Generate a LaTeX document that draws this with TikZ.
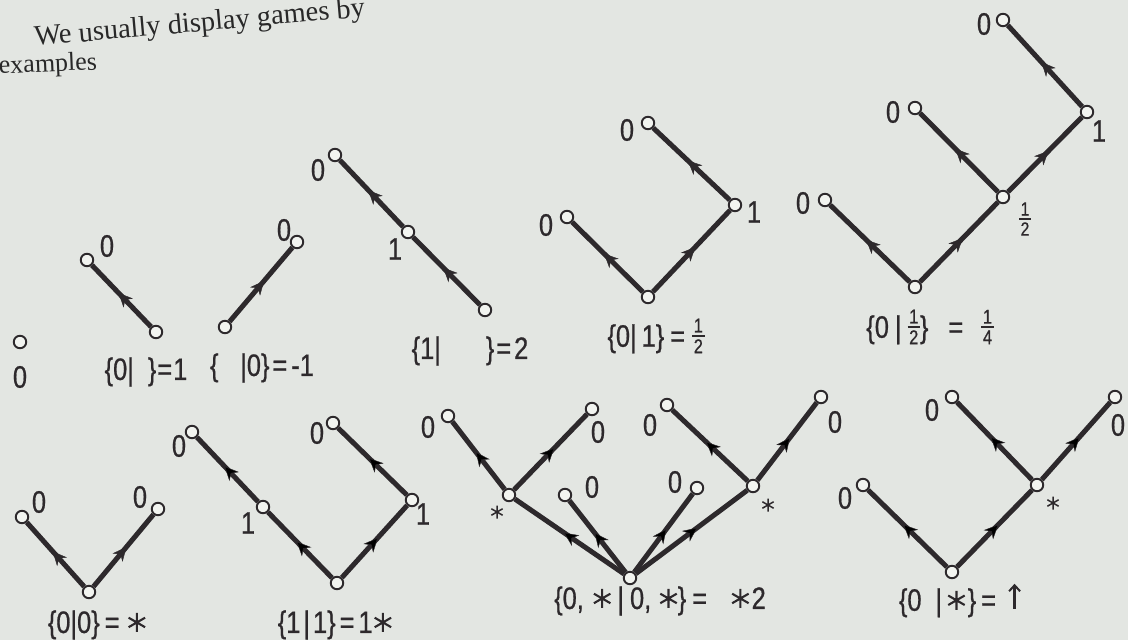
\documentclass[tikz,border=0pt]{standalone}
\usepackage{fontspec}
\usepackage{graphicx}
\setmainfont{Liberation Sans}
\newfontfamily\bookserif{Liberation Serif}
\newfontfamily\lettering[FakeStretch=0.82,FakeBold=0.7]{Liberation Sans}
\usetikzlibrary{arrows.meta,decorations.markings}
\definecolor{paper}{RGB}{227,230,226}
\definecolor{ink}{RGB}{45,41,44}
\definecolor{nodefill}{RGB}{242,244,240}
\definecolor{printink}{RGB}{40,40,40}
% big asterisk for value labels, small one for node labels
\newcommand\gst{\tikz[baseline=-10.5pt,x=1pt,y=1pt]{\draw[ink,line width=2.1pt] (90:9.5)--(270:9.5) (30:9.5)--(210:9.5) (150:9.5)--(330:9.5);}}
\newcommand\nst{\tikz[baseline=-7pt,x=1pt,y=1pt]{\draw[ink,line width=1.5pt] (90:6.5)--(270:6.5) (30:6.5)--(210:6.5) (150:6.5)--(330:6.5);}}
\newcommand\uparr{\tikz[baseline=-2pt,x=1pt,y=1pt]{\draw[ink,line width=2.2pt,-{Straight Barb[length=6pt,width=11pt,line width=2pt]}] (0,0)--(0,25);}}
% stacked fraction: size, numerator, denominator, raise
\newcommand\fr[4]{\raisebox{#4}{\fontsize{#1}{#1}\selectfont\vbox{\offinterlineskip\halign{\hfil##\hfil\cr #2\cr\noalign{\kern2.5pt}\rule{0.62em}{1.8pt}\cr\noalign{\kern2.5pt}#3\cr}}}}
\tikzset{
  gn/.style={circle, draw=ink, fill=nodefill, line width=1.9pt, minimum size=12.5pt, inner sep=0pt},
  mv/.style={draw=ink, line width=5pt, postaction={decorate},
    decoration={markings, mark=at position 0.55 with {\arrow{Stealth[length=14pt,width=13pt,inset=4.5pt,line width=0.4pt]}}}},
  lab/.style={font=\lettering\fontsize{31}{33}\selectfont, text=ink, inner sep=0pt},
  eqn/.style={font=\lettering\fontsize{31}{33}\selectfont, text=ink, inner sep=0pt},
  ttl/.style={font=\bookserif\fontsize{28.5}{30}\selectfont, text=printink, inner sep=0pt, anchor=base west}
}
\begin{document}
\begin{tikzpicture}[x=1pt,y=-1pt]
\useasboundingbox (0,0) rectangle (1128,640);
\fill[paper] (0,0) rectangle (1128,640);

% heading
\node[ttl, rotate=5.1] (h1) at (35,46) {We usually display games by};
\node[ttl, font=\bookserif\fontsize{26}{28}\selectfont, rotate=2.5] (h2) at (-1,74) {examples};

% single 0
\node[gn] (z) at (20,342) {};
\node[lab] (zl) at (20,377) {0};

% {0| } = 1
\node[gn] (r1) at (156,332) {};
\node[gn] (c1) at (87,260) {};
\node[lab] (c1l) at (107,246) {0};
\draw[mv] (r1) -- (c1);
\node[eqn] (e1) at (146,372) {\{0|\hspace{0.45em}\}\kern1pt=\kern1pt1};

% { |0} = -1
\node[gn] (r2) at (225,327) {};
\node[gn] (c2) at (297,242) {};
\node[lab] (c2l) at (284,230) {0};
\draw[mv] (r2) -- (c2);
\node[eqn] (e2) at (262,368) {\{\hspace{0.7em}|0\}\kern3pt=\kern4pt-1};

% {1| } = 2
\node[gn] (r3) at (485,310) {};
\node[gn] (m3) at (408,232) {};
\node[gn] (t3) at (335,155) {};
\node[lab] (m3l) at (395,249) {1};
\node[lab] (t3l) at (318,170) {0};
\draw[mv] (r3) -- (m3);
\draw[mv] (m3) -- (t3);
\node[eqn] (e3) at (470,351) {\{1|\hspace{1.45em}\}\kern2pt=\kern3pt2};

% {0|1} = 1/2
\node[gn] (r4) at (648,297) {};
\node[gn] (l4) at (567,217) {};
\node[gn] (n4) at (735,205) {};
\node[gn] (t4) at (648,123) {};
\node[lab] (l4l) at (546,225) {0};
\node[lab] (n4l) at (754,212) {1};
\node[lab] (t4l) at (627,130) {0};
\draw[mv] (r4) -- (l4);
\draw[mv] (r4) -- (n4);
\draw[mv] (n4) -- (t4);
\node[eqn] (e4) at (656,336) {\{0|\kern5pt1\}\kern6pt=\kern7pt\fr{20}{1}{2}{-6.5pt}};

% {0|1/2} = 1/4
\node[gn] (r5) at (915,287) {};
\node[gn] (l5) at (825,200) {};
\node[gn] (h5) at (1003,197) {};
\node[gn] (hl5) at (915,108) {};
\node[gn] (o5) at (1087,112) {};
\node[gn] (ot5) at (1003,20) {};
\node[lab] (l5l) at (803,203) {0};
\node[lab] (h5l) at (1025,219) {\fr{19}{1}{2}{0pt}};
\node[lab] (hl5l) at (893,112) {0};
\node[lab] (o5l) at (1099,131) {1};
\node[lab] (ot5l) at (984,24) {0};
\draw[mv] (r5) -- (l5);
\draw[mv] (r5) -- (h5);
\draw[mv] (h5) -- (hl5);
\draw[mv] (h5) -- (o5);
\draw[mv] (o5) -- (ot5);
\node[eqn] (e5) at (930,327) {\{0\kern6pt|\kern6pt\fr{20}{1}{2}{-6.5pt}\}\kern20pt=\kern18pt\fr{20}{1}{4}{-6.5pt}};

% {0|0} = *
\node[gn] (r6) at (89,592) {};
\node[gn] (l6) at (22,517) {};
\node[gn] (rr6) at (158,509) {};
\node[lab] (l6l) at (39,502) {0};
\node[lab] (rr6l) at (140,497) {0};
\draw[mv] (r6) -- (l6);
\draw[mv] (r6) -- (rr6);
\node[eqn] (e6) at (97,625) {\{0|0\}\kern5pt=\kern8pt\gst};

% {1|1} = 1*
\node[gn] (r7) at (337,583) {};
\node[gn] (m7) at (263,507) {};
\node[gn] (t7) at (192,432) {};
\node[gn] (n7) at (412,500) {};
\node[gn] (nt7) at (333,423) {};
\node[lab] (m7l) at (248,523) {1};
\node[lab] (t7l) at (179,446) {0};
\node[lab] (n7l) at (423,514) {1};
\node[lab] (nt7l) at (317,433) {0};
\draw[mv] (r7) -- (m7);
\draw[mv] (m7) -- (t7);
\draw[mv] (r7) -- (n7);
\draw[mv] (n7) -- (nt7);
\node[eqn] (e7) at (335,625) {\{1\kern3pt|\kern3pt1\}\kern4pt=\kern4pt1\kern1pt\gst};

% {0,*|0,*} = *2
\node[gn] (r8) at (630,578) {};
\node[gn] (ls8) at (509,495) {};
\node[gn] (a8) at (448,416) {};
\node[gn] (b8) at (592,409) {};
\node[gn] (il8) at (565,495) {};
\node[gn] (ir8) at (697,488) {};
\node[gn] (rs8) at (753,486) {};
\node[gn] (c8) at (667,405) {};
\node[gn] (d8) at (821,397) {};
\node[lab] (ls8l) at (497,512) {\nst};
\node[lab] (a8l) at (428,427) {0};
\node[lab] (b8l) at (598,432) {0};
\node[lab] (il8l) at (592,487) {0};
\node[lab] (ir8l) at (675,482) {0};
\node[lab] (rs8l) at (768,505) {\nst};
\node[lab] (c8l) at (650,425) {0};
\node[lab] (d8l) at (835,422) {0};
\draw[mv] (r8) -- (ls8);
\draw[mv] (r8) -- (il8);
\draw[mv] (r8) -- (ir8);
\draw[mv] (r8) -- (rs8);
\draw[mv] (ls8) -- (a8);
\draw[mv] (ls8) -- (b8);
\draw[mv] (rs8) -- (c8);
\draw[mv] (rs8) -- (d8);
\node[eqn] (e8) at (660,601) {\{0,\kern9pt\gst\kern6pt|\kern6pt0,\kern8pt\gst\}\kern6pt=\hspace{24pt}\gst\kern2pt2};

% {0|*} = up
\node[gn] (r9) at (952,572) {};
\node[gn] (l9) at (863,485) {};
\node[gn] (s9) at (1037,485) {};
\node[gn] (sl9) at (952,397) {};
\node[gn] (sr9) at (1115,397) {};
\node[lab] (l9l) at (845,498) {0};
\node[lab] (s9l) at (1053,503) {\nst};
\node[lab] (sl9l) at (932,410) {0};
\node[lab] (sr9l) at (1118,425) {0};
\draw[mv] (r9) -- (l9);
\draw[mv] (r9) -- (s9);
\draw[mv] (s9) -- (sl9);
\draw[mv] (s9) -- (sr9);
\node[eqn] (e9) at (960,600) {\{0\kern14pt|\kern5pt\gst\kern2pt\}\kern5pt=\kern12pt\uparr};
\end{tikzpicture}
\end{document}
